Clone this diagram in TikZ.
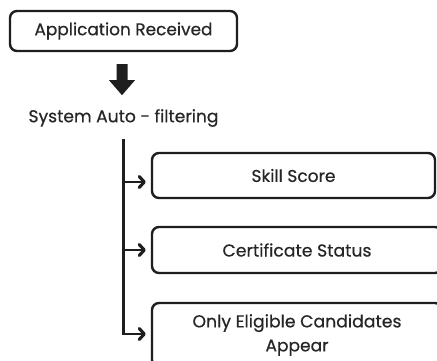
\documentclass[tikz,border=0pt]{standalone}
\usepackage{fontspec}
\setmainfont{Poppins}[FakeBold=0.5]
\usetikzlibrary{arrows.meta,calc}
\definecolor{ink}{HTML}{1E1E1E}
\definecolor{txt}{HTML}{262626}
\newcommand\fitw[2]{\resizebox{#1}{!}{#2}}
\begin{document}
\begin{tikzpicture}[x=1pt,y=-1pt,
  box/.style={draw=ink,line width=2.4pt,rounded corners=7pt,inner sep=0pt,align=center,text=txt,font=\fontsize{12}{24}\selectfont},
  conn/.style={draw=ink,line width=2.4pt,-{Straight Barb[length=5pt,width=11pt,line width=0pt 1.3,round]},shorten >=5pt}]
\useasboundingbox (0,0) rectangle (437,360);
\clip (0,0) rectangle (437,360);
\fill[white] (0,0) rectangle (437,360);
\node[box,minimum width=227pt,minimum height=40pt] (app) at (123.5,31) {\fitw{178pt}{Application Received}};
\node[text=txt,inner sep=0pt] (sys) at (123.5,118) {\fitw{190pt}{System Auto - filtering}};
\node[box,minimum width=283pt,minimum height=45pt] (b1) at (293.5,175.5) {\fitw{84pt}{Skill Score}};
\node[box,minimum width=290pt,minimum height=46pt] (b2) at (297,250) {\fitw{149pt}{Certificate Status}};
\node[box,minimum width=290pt,minimum height=64pt] (b3) at (297,335) {\fitw{209pt}{Only Eligible Candidates}\\\fitw{63pt}{Appear}};
% block arrow
\coordinate (ba) at ($(app.south)+(-1.5,12)$);
\fill[ink] ($(ba)+(-5.5,0)$) -- ($(ba)+(5.5,0)$) -- ($(ba)+(5.5,16)$) -- ($(ba)+(13,16)$) -- ($(ba)+(0,31)$) -- ($(ba)+(-13,16)$) -- ($(ba)+(-5.5,16)$) -- cycle;
% trunk
\coordinate (t0) at ($(sys.south)+(0,12)$);
\draw[conn] (t0) |- (b3.west |- 0,334);
\draw[conn] (t0 |- 0,182) -- (b1.west |- 0,182);
\draw[conn] (t0 |- b2.west) -- (b2.west);
\end{tikzpicture}
\end{document}
